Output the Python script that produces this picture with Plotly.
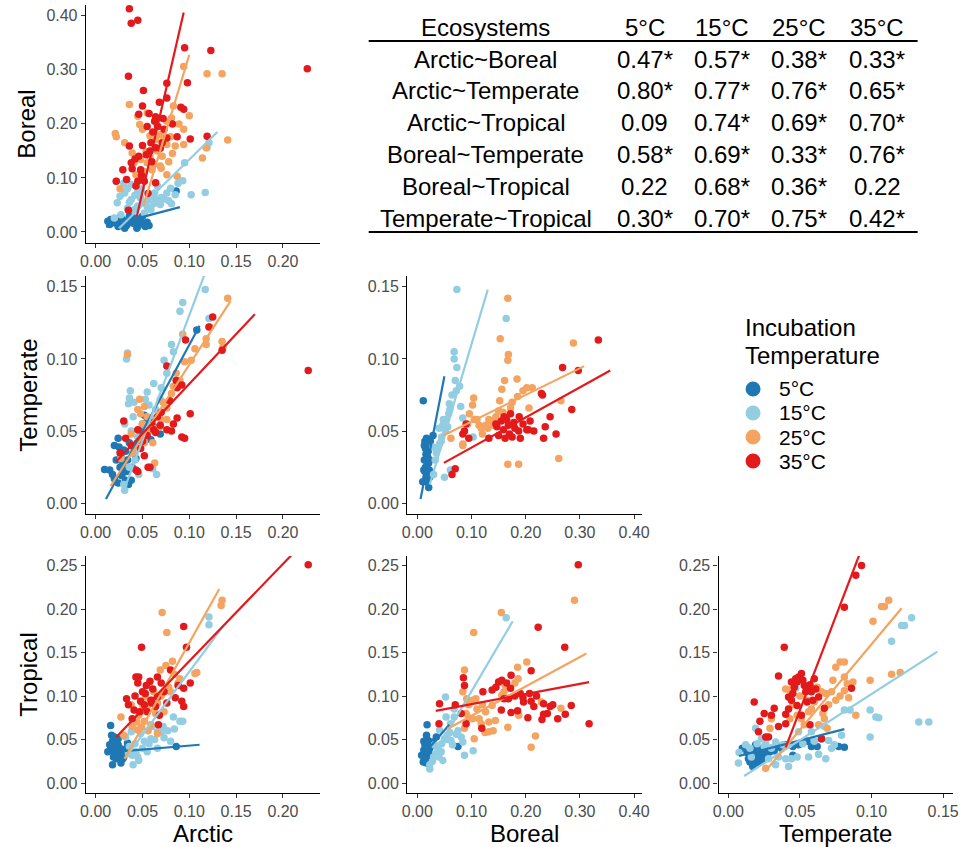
import plotly.graph_objects as go

W, H = 970, 847
FONT = "Liberation Sans, Arial, Helvetica, sans-serif"

temps = ["5°C", "15°C", "25°C", "35°C"]
colors = ["#1F78B4", "#92CDE2", "#F4A460", "#E31A1C"]

# ---------------- Panel: Arctic (x) vs Boreal (y) ----------------
ab_5_x = [0.013,0.016,0.022,0.027,0.031,0.034,0.038,0.043,0.046,0.053,0.055,0.031,0.024,0.020,0.041,0.050,0.086,0.045,0.025,0.036,
          0.018,0.028,0.033,0.040,0.048,0.052,0.057,0.029,0.035,0.047,0.015,0.044]
ab_5_y = [0.020,0.023,0.022,0.020,0.015,0.018,0.023,0.020,0.014,0.010,0.018,0.007,0.010,0.017,0.026,0.029,0.076,0.010,0.026,0.029,
          0.021,0.024,0.012,0.016,0.020,0.015,0.012,0.018,0.022,0.024,0.014,0.007]
ab_15_x = [0.022,0.023,0.031,0.038,0.045,0.052,0.059,0.066,0.076,0.081,0.085,0.102,0.117,0.095,0.119,0.121,0.073,0.034,0.041,0.052,0.027,0.020,0.064,0.069,0.059,0.045,0.038,0.080,0.048,
           0.030,0.034,0.042,0.049,0.056,0.063,0.070,0.078,0.036,0.026,0.055,0.062,0.088,0.093]
ab_15_y = [0.094,0.054,0.072,0.060,0.075,0.054,0.066,0.085,0.072,0.052,0.069,0.069,0.073,0.128,0.156,0.165,0.061,0.044,0.041,0.035,0.032,0.026,0.060,0.051,0.041,0.048,0.088,0.081,0.063,
           0.090,0.080,0.068,0.080,0.060,0.072,0.064,0.058,0.055,0.066,0.047,0.052,0.090,0.095]
ab_25_x = [0.036,0.021,0.022,0.026,0.045,0.047,0.055,0.094,0.119,0.135,0.141,0.114,0.118,0.100,0.094,0.094,0.085,0.076,0.083,0.076,0.069,0.073,0.064,0.064,0.055,0.060,0.052,0.048,0.041,0.043,0.076,0.069,0.031,0.087,0.039,0.067,0.081,0.054,
           0.058,0.062,0.066,0.071,0.078,0.082,0.058,0.050,0.070,0.046,0.080,0.089]
ab_25_y = [0.236,0.182,0.176,0.080,0.214,0.199,0.220,0.306,0.293,0.293,0.170,0.137,0.156,0.215,0.190,0.162,0.159,0.162,0.233,0.205,0.180,0.171,0.171,0.156,0.128,0.115,0.112,0.134,0.128,0.106,0.106,0.122,0.165,0.103,0.146,0.195,0.211,0.149,
           0.140,0.125,0.150,0.140,0.130,0.145,0.178,0.190,0.118,0.100,0.176,0.200]
ab_35_x = [0.036,0.038,0.045,0.035,0.095,0.123,0.226,0.076,0.098,0.051,0.068,0.076,0.050,0.091,0.094,0.057,0.064,0.066,0.073,0.046,0.076,0.087,0.101,0.119,0.036,0.050,0.059,0.064,0.046,0.054,0.038,0.048,0.029,0.039,0.022,0.033,0.045,0.064,0.056,0.035,0.052,0.043,0.069,
           0.061,0.063,0.071,0.058,0.049,0.060,0.072,0.082,0.042,0.055]
ab_35_y = [0.413,0.386,0.392,0.288,0.341,0.336,0.302,0.275,0.276,0.262,0.240,0.248,0.233,0.231,0.227,0.219,0.213,0.195,0.190,0.218,0.174,0.176,0.172,0.177,0.159,0.160,0.165,0.156,0.140,0.143,0.128,0.115,0.115,0.117,0.094,0.097,0.094,0.091,0.071,0.040,0.094,0.085,0.155,
           0.185,0.205,0.165,0.150,0.105,0.130,0.210,0.200,0.135,0.195]
# fitted line ends [x0, x1, y0, y1] per temperature
ab_fit_5 = [0.011, 0.090, 0.010, 0.046]
ab_fit_15 = [0.025, 0.130, 0.007, 0.185]
ab_fit_25 = [0.051, 0.100, 0.048, 0.328]
ab_fit_35 = [0.044, 0.094, 0.029, 0.406]

# ---------------- Panel: Arctic (x) vs Temperate (y) ----------------
at_5_x = [0.0095,0.015,0.018,0.024,0.025,0.029,0.031,0.032,0.035,0.038,0.032,0.027,0.043,0.052,0.055,0.062,0.059,0.020,0.024,0.036,0.045,0.108,0.039,0.069,
          0.020,0.022,0.026,0.030,0.034,0.040,0.047,0.028,0.033,0.050]
at_5_y = [0.0235,0.023,0.020,0.045,0.039,0.028,0.023,0.016,0.013,0.016,0.036,0.033,0.031,0.061,0.057,0.053,0.044,0.017,0.014,0.042,0.042,0.120,0.025,0.048,
          0.040,0.030,0.025,0.037,0.030,0.035,0.050,0.019,0.022,0.055]
at_15_x = [0.034,0.033,0.037,0.036,0.041,0.035,0.053,0.055,0.062,0.073,0.081,0.083,0.090,0.093,0.117,0.121,0.059,0.048,0.043,0.031,0.030,0.031,0.046,0.065,0.061,0.052,0.045,0.069,
           0.040,0.050,0.057,0.064,0.070,0.076,0.038,0.042,0.036]
at_15_y = [0.104,0.100,0.078,0.073,0.070,0.069,0.072,0.077,0.083,0.099,0.110,0.105,0.133,0.139,0.148,0.128,0.059,0.042,0.037,0.055,0.013,0.009,0.020,0.020,0.024,0.046,0.046,0.072,
           0.060,0.055,0.068,0.065,0.080,0.090,0.050,0.030,0.025]
at_25_x = [0.034,0.047,0.045,0.048,0.052,0.055,0.061,0.063,0.068,0.076,0.081,0.090,0.093,0.102,0.106,0.118,0.118,0.122,0.135,0.136,0.141,0.076,0.069,0.059,0.052,0.038,0.027,0.083,
           0.050,0.057,0.064,0.070,0.072,0.086,0.095,0.044,0.040]
at_25_y = [0.103,0.072,0.065,0.062,0.067,0.060,0.042,0.028,0.061,0.066,0.076,0.085,0.117,0.099,0.107,0.110,0.114,0.122,0.112,0.108,0.142,0.058,0.053,0.055,0.042,0.048,0.031,0.081,
           0.055,0.050,0.052,0.058,0.070,0.090,0.098,0.040,0.035]
at_35_x = [0.030,0.032,0.043,0.045,0.056,0.048,0.052,0.058,0.062,0.069,0.076,0.081,0.087,0.087,0.092,0.086,0.076,0.096,0.101,0.092,0.095,0.125,0.121,0.135,0.227,0.066,0.045,
           0.050,0.055,0.064,0.070,0.083,0.079,0.060,0.038,0.026]
at_35_y = [0.057,0.045,0.023,0.022,0.025,0.038,0.033,0.025,0.051,0.054,0.051,0.050,0.059,0.080,0.082,0.085,0.095,0.113,0.062,0.046,0.045,0.129,0.122,0.106,0.092,0.060,0.051,
           0.043,0.047,0.049,0.063,0.055,0.071,0.056,0.040,0.035]
at_fit_5 = [0.011, 0.111, 0.003, 0.123]
at_fit_15 = [0.029, 0.116, 0.007, 0.158]
at_fit_25 = [0.016, 0.144, 0.012, 0.140]
at_fit_35 = [0.022, 0.170, 0.029, 0.131]

# ---------------- Panel: Arctic (x) vs Tropical (y) ----------------
ap_5_x = [0.016,0.017,0.020,0.024,0.016,0.020,0.025,0.027,0.022,0.018,0.027,0.032,0.013,0.086,0.034,0.024,0.029,0.015,
          0.019,0.021,0.023,0.026,0.028,0.030,0.018,0.022,0.033]
ap_5_y = [0.066,0.055,0.053,0.051,0.040,0.036,0.038,0.032,0.028,0.021,0.023,0.034,0.036,0.042,0.046,0.044,0.028,0.044,
          0.030,0.045,0.033,0.040,0.036,0.030,0.048,0.038,0.040]
ap_15_x = [0.032,0.038,0.040,0.046,0.043,0.052,0.059,0.066,0.072,0.073,0.083,0.090,0.093,0.121,0.121,0.080,0.055,0.066,0.035,0.060,0.048,
           0.036,0.042,0.050,0.057,0.063,0.070,0.077,0.084,0.045,0.039]
ap_15_y = [0.053,0.059,0.021,0.026,0.036,0.048,0.051,0.059,0.065,0.052,0.076,0.071,0.071,0.191,0.182,0.048,0.036,0.040,0.034,0.065,0.057,
           0.042,0.045,0.040,0.045,0.050,0.058,0.060,0.062,0.030,0.032]
ap_25_x = [0.027,0.030,0.039,0.046,0.050,0.053,0.057,0.062,0.069,0.075,0.082,0.071,0.076,0.088,0.080,0.073,0.066,0.059,0.052,0.045,0.106,0.108,0.134,0.135,0.066,0.038,
           0.044,0.048,0.055,0.060,0.064,0.070,0.078,0.084,0.090,0.056,0.049]
ap_25_y = [0.076,0.055,0.065,0.078,0.090,0.099,0.113,0.105,0.130,0.135,0.140,0.196,0.173,0.115,0.105,0.082,0.092,0.067,0.071,0.061,0.126,0.127,0.204,0.210,0.057,0.090,
           0.070,0.082,0.088,0.095,0.080,0.100,0.110,0.125,0.120,0.060,0.064]
ap_35_x = [0.049,0.094,0.097,0.033,0.043,0.046,0.045,0.058,0.066,0.080,0.101,0.094,0.092,0.094,0.035,0.041,0.039,0.048,0.059,0.066,0.073,0.055,0.068,0.067,0.227,0.060,0.053,
           0.042,0.050,0.054,0.061,0.064,0.070,0.076,0.085,0.088,0.047,0.052]
ap_35_y = [0.156,0.180,0.156,0.097,0.122,0.122,0.115,0.117,0.122,0.130,0.115,0.109,0.094,0.088,0.090,0.084,0.074,0.094,0.095,0.099,0.105,0.082,0.078,0.067,0.251,0.092,0.103,
           0.100,0.105,0.112,0.108,0.088,0.115,0.092,0.098,0.112,0.082,0.090]
ap_fit_5 = [0.011, 0.111, 0.035, 0.044]
ap_fit_15 = [0.031, 0.136, 0.028, 0.180]
ap_fit_25 = [0.031, 0.132, 0.028, 0.223]
ap_fit_35 = [0.022, 0.227, 0.053, 0.282]

# ---------------- Panel: Boreal (x) vs Temperate (y) ----------------
bt_5_x = [0.011,0.014,0.017,0.020,0.016,0.018,0.012,0.010,0.017,0.021,0.023,0.023,0.020,0.029,0.022,0.016,
          0.013,0.015,0.019,0.021,0.013,0.015,0.018,0.024,0.019,0.014]
bt_5_y = [0.071,0.043,0.045,0.041,0.034,0.027,0.023,0.015,0.015,0.011,0.018,0.030,0.036,0.047,0.023,0.018,
          0.040,0.038,0.032,0.028,0.030,0.025,0.020,0.043,0.043,0.022]
bt_15_x = [0.073,0.068,0.068,0.073,0.078,0.072,0.059,0.080,0.084,0.058,0.047,0.045,0.041,0.035,0.103,0.164,0.050,0.061,0.030,0.056,0.029,
           0.040,0.048,0.052,0.064,0.070,0.060,0.038,0.044,0.033,0.054]
bt_15_y = [0.148,0.105,0.100,0.094,0.081,0.078,0.069,0.067,0.059,0.062,0.054,0.046,0.041,0.035,0.046,0.128,0.018,0.023,0.020,0.053,0.039,
           0.052,0.058,0.050,0.075,0.085,0.065,0.038,0.043,0.030,0.058]
bt_25_x = [0.167,0.153,0.168,0.167,0.288,0.161,0.156,0.184,0.202,0.212,0.185,0.152,0.206,0.104,0.102,0.096,0.105,0.114,0.126,0.132,0.144,0.120,0.084,0.062,0.167,0.187,0.261,0.265,0.150,0.172,0.084,0.141,
           0.110,0.118,0.135,0.145,0.158,0.130,0.093,0.175,0.195]
bt_25_y = [0.142,0.114,0.103,0.099,0.111,0.085,0.079,0.086,0.080,0.080,0.074,0.071,0.066,0.073,0.068,0.062,0.058,0.054,0.054,0.058,0.058,0.048,0.041,0.045,0.027,0.027,0.031,0.071,0.064,0.066,0.040,0.054,
           0.058,0.052,0.057,0.060,0.063,0.052,0.055,0.070,0.078]
bt_35_x = [0.334,0.268,0.297,0.229,0.231,0.285,0.245,0.236,0.256,0.233,0.208,0.202,0.205,0.187,0.188,0.172,0.155,0.159,0.162,0.147,0.132,0.168,0.084,0.087,0.090,0.095,0.070,0.064,0.178,
           0.150,0.165,0.170,0.180,0.195,0.160,0.145,0.175,0.215,0.190]
bt_35_y = [0.113,0.094,0.092,0.076,0.075,0.065,0.060,0.053,0.048,0.045,0.057,0.051,0.051,0.050,0.060,0.062,0.057,0.051,0.045,0.053,0.045,0.054,0.048,0.050,0.055,0.045,0.024,0.020,0.056,
           0.047,0.058,0.048,0.052,0.055,0.060,0.055,0.046,0.050,0.045]
bt_fit_5 = [0.006, 0.050, 0.003, 0.088]
bt_fit_15 = [0.023, 0.130, 0.013, 0.148]
bt_fit_25 = [0.048, 0.308, 0.047, 0.095]
bt_fit_35 = [0.049, 0.356, 0.028, 0.092]

# ---------------- Panel: Boreal (x) vs Tropical (y) ----------------
bp_5_x = [0.018,0.017,0.014,0.008,0.011,0.017,0.023,0.029,0.022,0.015,0.075,0.035,0.026,0.020,
          0.012,0.016,0.019,0.013,0.021,0.024,0.012,0.017]
bp_5_y = [0.067,0.055,0.044,0.032,0.024,0.023,0.040,0.047,0.032,0.036,0.042,0.053,0.028,0.049,
          0.038,0.030,0.042,0.028,0.036,0.045,0.048,0.026]
bp_15_x = [0.164,0.052,0.053,0.061,0.041,0.050,0.032,0.035,0.023,0.023,0.047,0.072,0.081,0.087,0.103,0.084,0.068,0.068,0.065,0.044,
           0.030,0.038,0.045,0.055,0.060,0.075,0.056,0.040,0.028,0.062]
bp_15_y = [0.190,0.099,0.076,0.068,0.061,0.051,0.044,0.034,0.021,0.016,0.026,0.056,0.053,0.032,0.037,0.047,0.085,0.076,0.044,0.036,
           0.030,0.040,0.045,0.055,0.058,0.060,0.050,0.030,0.025,0.049]
bp_25_x = [0.155,0.104,0.290,0.087,0.185,0.202,0.186,0.187,0.218,0.210,0.167,0.265,0.229,0.084,0.091,0.102,0.108,0.090,0.102,0.114,0.126,0.138,0.156,0.162,0.150,0.132,0.144,0.087,0.105,0.132,
           0.095,0.110,0.120,0.095,0.118,0.140,0.160,0.170,0.180,0.125]
bp_25_y = [0.196,0.173,0.210,0.130,0.133,0.139,0.120,0.078,0.054,0.041,0.064,0.086,0.093,0.105,0.097,0.095,0.097,0.080,0.074,0.074,0.082,0.089,0.101,0.112,0.116,0.059,0.072,0.063,0.051,0.070,
           0.090,0.085,0.090,0.075,0.068,0.060,0.105,0.098,0.115,0.058]
bp_35_x = [0.297,0.223,0.272,0.210,0.173,0.156,0.150,0.085,0.087,0.138,0.121,0.172,0.190,0.207,0.210,0.233,0.245,0.233,0.230,0.204,0.259,0.273,0.284,0.317,0.155,0.173,0.185,0.041,0.040,0.070,0.090,0.081,0.119,0.168,0.196,
           0.165,0.180,0.195,0.220,0.240,0.215,0.160,0.145,0.250]
bp_35_y = [0.251,0.179,0.156,0.129,0.124,0.118,0.116,0.121,0.112,0.107,0.105,0.109,0.103,0.103,0.094,0.091,0.088,0.079,0.073,0.075,0.074,0.079,0.089,0.068,0.084,0.081,0.083,0.091,0.068,0.090,0.068,0.080,0.063,0.097,0.093,
           0.115,0.100,0.098,0.100,0.080,0.088,0.097,0.110,0.090]
bp_fit_5 = [0.010, 0.059, 0.032, 0.067]
bp_fit_15 = [0.023, 0.176, 0.024, 0.186]
bp_fit_25 = [0.055, 0.312, 0.062, 0.149]
bp_fit_35 = [0.034, 0.317, 0.083, 0.116]

# ---------------- Panel: Temperate (x) vs Tropical (y) ----------------
tp_5_x = [0.0097,0.012,0.014,0.017,0.019,0.015,0.017,0.020,0.022,0.021,0.026,0.030,0.035,0.040,0.045,0.049,0.058,0.062,0.065,0.081,0.077,0.025,0.014,0.019,0.045,
          0.013,0.016,0.018,0.021,0.023,0.025,0.027,0.029,0.016,0.020,0.024,0.032,0.037,0.050,0.055]
tp_5_y = [0.040,0.042,0.040,0.036,0.034,0.024,0.019,0.023,0.028,0.037,0.038,0.040,0.042,0.044,0.042,0.044,0.042,0.042,0.051,0.041,0.042,0.028,0.028,0.044,0.032,
          0.035,0.030,0.027,0.030,0.025,0.033,0.030,0.036,0.038,0.041,0.040,0.037,0.040,0.045,0.048]
tp_15_x = [0.0074,0.007,0.012,0.019,0.023,0.033,0.038,0.044,0.042,0.033,0.047,0.056,0.063,0.068,0.070,0.074,0.079,0.081,0.085,0.099,0.099,0.103,0.105,0.114,0.121,0.123,0.128,0.133,0.140,0.067,0.049,0.058,0.042,0.026,
           0.015,0.020,0.025,0.030,0.035,0.040,0.048,0.052,0.060,0.072,0.016,0.028]
tp_15_y = [0.035,0.023,0.044,0.063,0.051,0.047,0.044,0.028,0.019,0.021,0.109,0.030,0.033,0.028,0.049,0.044,0.055,0.084,0.084,0.053,0.084,0.076,0.075,0.163,0.181,0.181,0.190,0.070,0.070,0.065,0.059,0.059,0.044,0.045,
           0.040,0.045,0.042,0.040,0.030,0.028,0.030,0.045,0.048,0.040,0.030,0.028]
tp_25_x = [0.026,0.029,0.040,0.043,0.043,0.048,0.051,0.056,0.060,0.065,0.068,0.072,0.075,0.081,0.075,0.078,0.081,0.081,0.083,0.087,0.089,0.099,0.101,0.107,0.109,0.112,0.114,0.120,0.063,0.067,0.069,0.053,0.030,
           0.045,0.050,0.055,0.058,0.062,0.070,0.073,0.078,0.066,0.084]
tp_25_y = [0.017,0.063,0.108,0.107,0.074,0.078,0.074,0.082,0.093,0.105,0.103,0.105,0.095,0.106,0.133,0.139,0.139,0.122,0.114,0.116,0.078,0.118,0.186,0.203,0.203,0.210,0.125,0.127,0.067,0.074,0.063,0.067,0.074,
           0.090,0.100,0.095,0.085,0.110,0.090,0.118,0.100,0.080,0.098]
tp_35_x = [0.018,0.022,0.021,0.026,0.028,0.025,0.032,0.035,0.039,0.040,0.040,0.042,0.045,0.047,0.048,0.050,0.051,0.053,0.056,0.058,0.060,0.063,0.048,0.051,0.057,0.065,0.067,0.081,0.089,0.093,0.086,0.044,0.055,
           0.042,0.046,0.049,0.052,0.054,0.057,0.059,0.061,0.044,0.035,0.030]
tp_35_y = [0.093,0.071,0.059,0.053,0.053,0.080,0.086,0.123,0.156,0.079,0.068,0.099,0.103,0.120,0.116,0.120,0.126,0.112,0.109,0.105,0.120,0.099,0.089,0.078,0.067,0.051,0.086,0.202,0.239,0.250,0.109,0.095,0.093,
           0.085,0.110,0.122,0.118,0.105,0.113,0.095,0.108,0.116,0.065,0.078]
tp_fit_5 = [0.0074, 0.081, 0.031, 0.062]
tp_fit_15 = [0.011, 0.146, 0.008, 0.151]
tp_fit_25 = [0.026, 0.121, 0.014, 0.201]
tp_fit_35 = [0.040, 0.093, 0.041, 0.269]

# ---------------- Correlation table ----------------
table_header = ["Ecosystems", "5°C", "15°C", "25°C", "35°C"]
table_pairs = ["Arctic~Boreal", "Arctic~Temperate", "Arctic~Tropical",
               "Boreal~Temperate", "Boreal~Tropical", "Temperate~Tropical"]
r_5 = ["0.47*", "0.80*", "0.09", "0.58*", "0.22", "0.30*"]
r_15 = ["0.57*", "0.77*", "0.74*", "0.69*", "0.68*", "0.70*"]
r_25 = ["0.38*", "0.76*", "0.69*", "0.33*", "0.36*", "0.75*"]
r_35 = ["0.33*", "0.65*", "0.70*", "0.76*", "0.22", "0.42*"]

# ---------------- Axis ticks ----------------
arctic_ticks = [0.00, 0.05, 0.10, 0.15, 0.20]
boreal_ticks = [0.00, 0.10, 0.20, 0.30, 0.40]
temperate_ticks = [0.00, 0.05, 0.10, 0.15]
tropical_ticks = [0.00, 0.05, 0.10, 0.15, 0.20, 0.25]

# ---------------- Build figure ----------------
def px_x(p):
    return p / W

def px_y(p):
    return 1 - p / H

cols = {1: (81, 319), 2: (407, 645), 3: (723, 961)}
rows = {1: (5, 243), 2: (276, 514), 3: (556, 793)}
xr_arctic = [-0.0105, 0.24]
xr_boreal = [-0.0188, 0.414]
xr_temperate = [-0.0069, 0.157]
yr_boreal = [-0.0204, 0.420]
yr_temperate = [-0.0074, 0.1574]
yr_tropical = [-0.0115, 0.261]

panels = [
    (1, 1, 1, xr_arctic, arctic_ticks, yr_boreal, boreal_ticks,
     [(ab_5_x, ab_5_y), (ab_15_x, ab_15_y), (ab_25_x, ab_25_y), (ab_35_x, ab_35_y)],
     [ab_fit_5, ab_fit_15, ab_fit_25, ab_fit_35]),
    (2, 1, 2, xr_arctic, arctic_ticks, yr_temperate, temperate_ticks,
     [(at_5_x, at_5_y), (at_15_x, at_15_y), (at_25_x, at_25_y), (at_35_x, at_35_y)],
     [at_fit_5, at_fit_15, at_fit_25, at_fit_35]),
    (3, 1, 3, xr_arctic, arctic_ticks, yr_tropical, tropical_ticks,
     [(ap_5_x, ap_5_y), (ap_15_x, ap_15_y), (ap_25_x, ap_25_y), (ap_35_x, ap_35_y)],
     [ap_fit_5, ap_fit_15, ap_fit_25, ap_fit_35]),
    (4, 2, 2, xr_boreal, boreal_ticks, yr_temperate, temperate_ticks,
     [(bt_5_x, bt_5_y), (bt_15_x, bt_15_y), (bt_25_x, bt_25_y), (bt_35_x, bt_35_y)],
     [bt_fit_5, bt_fit_15, bt_fit_25, bt_fit_35]),
    (5, 2, 3, xr_boreal, boreal_ticks, yr_tropical, tropical_ticks,
     [(bp_5_x, bp_5_y), (bp_15_x, bp_15_y), (bp_25_x, bp_25_y), (bp_35_x, bp_35_y)],
     [bp_fit_5, bp_fit_15, bp_fit_25, bp_fit_35]),
    (6, 3, 3, xr_temperate, temperate_ticks, yr_tropical, tropical_ticks,
     [(tp_5_x, tp_5_y), (tp_15_x, tp_15_y), (tp_25_x, tp_25_y), (tp_35_x, tp_35_y)],
     [tp_fit_5, tp_fit_15, tp_fit_25, tp_fit_35]),
]

fig = go.Figure()
layout_axes = {}
for pid, c, r, xr, xt, yr, yt, data, fits in panels:
    xa = "x" if pid == 1 else f"x{pid}"
    ya = "y" if pid == 1 else f"y{pid}"
    for (xs, ys), col, t in zip(data, colors, temps):
        assert len(xs) == len(ys), (pid, t, len(xs), len(ys))
        fig.add_trace(go.Scatter(x=xs, y=ys, mode="markers", xaxis=xa, yaxis=ya,
                                 marker=dict(color=col, size=7.5, line=dict(width=0)),
                                 showlegend=False, name=t, hoverinfo="skip"))
    for f, col, t in zip(fits, colors, temps):
        fig.add_trace(go.Scatter(x=[f[0], f[1]], y=[f[2], f[3]], mode="lines",
                                 xaxis=xa, yaxis=ya, line=dict(color=col, width=2.2),
                                 showlegend=False, name=t, hoverinfo="skip"))
    common = dict(showline=True, linecolor="black", linewidth=1.2, ticks="outside",
                  ticklen=4, tickwidth=1, tickcolor="#333333", showgrid=False,
                  zeroline=False, tickfont=dict(family=FONT, size=16, color="#4D4D4D"),
                  tickformat=".2f", fixedrange=True)
    xkey = "xaxis" if pid == 1 else f"xaxis{pid}"
    ykey = "yaxis" if pid == 1 else f"yaxis{pid}"
    layout_axes[xkey] = dict(common, domain=[px_x(cols[c][0]), px_x(cols[c][1])],
                             range=xr, tickvals=xt, anchor=ya)
    layout_axes[ykey] = dict(common, domain=[px_y(rows[r][1]), px_y(rows[r][0])],
                             range=yr, tickvals=yt, anchor=xa)

fig.update_layout(**layout_axes)

annotations = []
shapes = []
title_font = dict(family=FONT, size=24, color="black")
legend_font = dict(family=FONT, size=21, color="black")


def label(text, xc, yc, xanchor="center", angle=0, font=title_font):
    return dict(text=text, x=px_x(xc), y=px_y(yc), xref="paper", yref="paper",
                showarrow=False, xanchor=xanchor, yanchor="middle", font=font,
                textangle=angle)


for text, xc, yc in [("Arctic", 200, 833), ("Boreal", 526, 833), ("Temperate", 842, 833)]:
    annotations.append(label(text, xc, yc))
for text, xc, yc in [("Boreal", 21, 124), ("Temperate", 22, 395), ("Tropical", 22, 675)]:
    annotations.append(label(text, xc, yc, angle=-90))

# table
col_centers = [487, 648, 726, 805, 884]
row_ys = [59, 91, 122, 154, 187, 218]
for txt, xc in zip(table_header, col_centers):
    annotations.append(label(txt, xc, 27))
for i, ry in enumerate(row_ys):
    vals = [table_pairs[i], r_5[i], r_15[i], r_25[i], r_35[i]]
    for txt, xc in zip(vals, col_centers):
        annotations.append(label(txt, xc, ry))
for ly in (41, 232):
    shapes.append(dict(type="line", xref="paper", yref="paper", x0=px_x(368), x1=px_x(925),
                       y0=px_y(ly), y1=px_y(ly), line=dict(color="black", width=2)))

# legend
annotations.append(label("Incubation", 748, 327, xanchor="left"))
annotations.append(label("Temperature", 748, 355, xanchor="left"))
for t, col, ly in zip(temps, colors, [389, 413, 437, 461]):
    shapes.append(dict(type="circle", xref="paper", yref="paper", xsizemode="pixel",
                       ysizemode="pixel", xanchor=px_x(758), yanchor=px_y(ly),
                       x0=-7.5, x1=7.5, y0=-7.5, y1=7.5, fillcolor=col, line=dict(width=0)))
    annotations.append(label(t, 782, ly, xanchor="left", font=legend_font))

fig.update_layout(width=W, height=H, margin=dict(l=0, r=0, t=0, b=0),
                  paper_bgcolor="white", plot_bgcolor="white",
                  annotations=annotations, shapes=shapes, showlegend=False,
                  font=dict(family=FONT))

fig.write_html("out.html", config={"displayModeBar": False},
               post_script="document.body.style.margin='0';document.body.style.overflow='hidden';")
